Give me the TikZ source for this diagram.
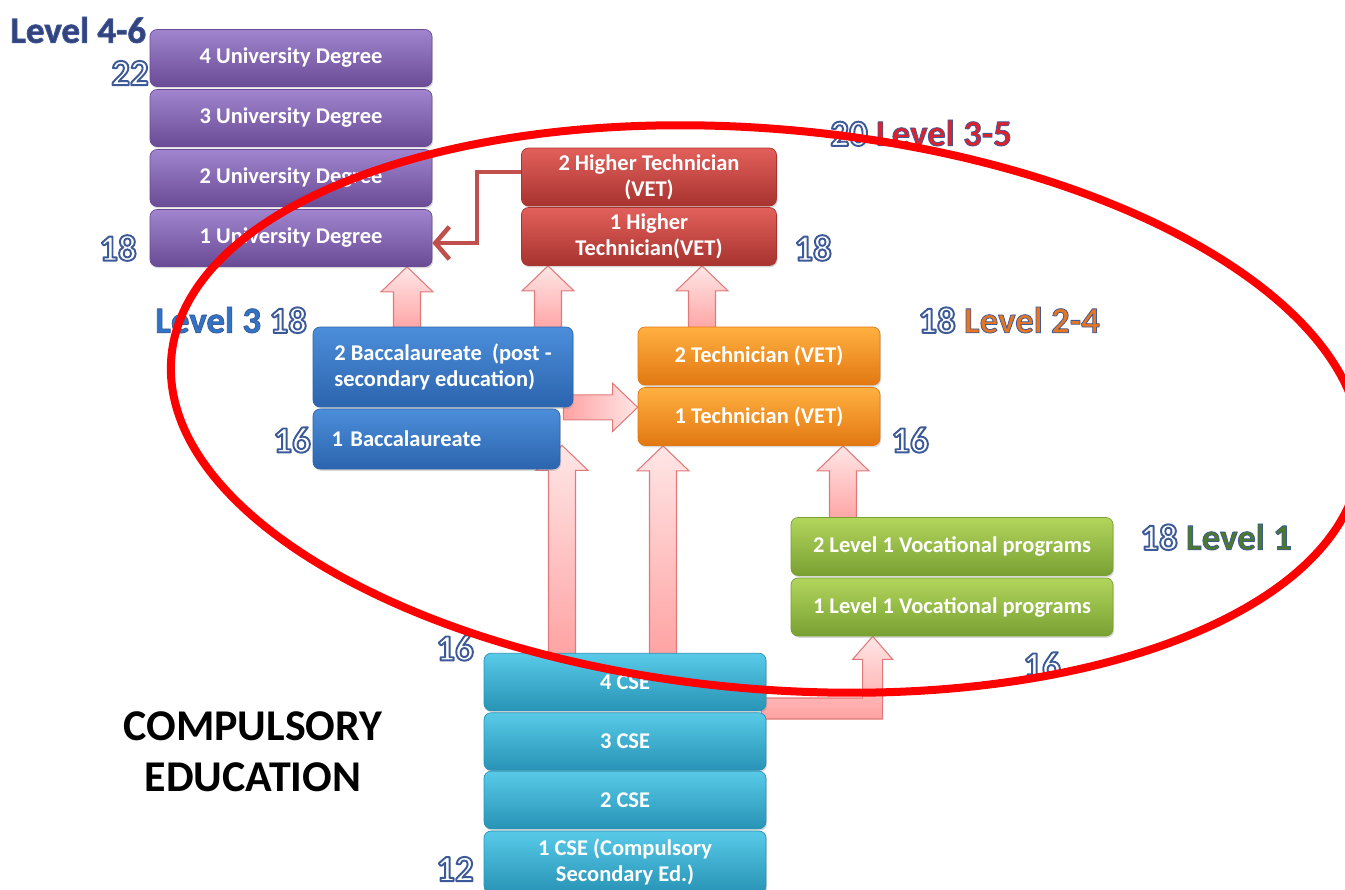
\documentclass[tikz,border=0pt]{standalone}
\usepackage{fontspec}
\setmainfont{Carlito}
\usetikzlibrary{calc,shadows,arrows.meta}

\definecolor{univtop}{HTML}{A185CE}
\definecolor{univbot}{HTML}{6A4A96}
\definecolor{htectop}{HTML}{E2605B}
\definecolor{htecbot}{HTML}{A8332F}
\definecolor{bacctop}{HTML}{4C8EDA}
\definecolor{baccbot}{HTML}{2C64AE}
\definecolor{techtop}{HTML}{FFB040}
\definecolor{techbot}{HTML}{E27812}
\definecolor{voctop}{HTML}{B2D55C}
\definecolor{vocbot}{HTML}{78A032}
\definecolor{csetop}{HTML}{58CAE8}
\definecolor{csebot}{HTML}{2893B6}
\definecolor{pinktop}{HTML}{FFE6E6}
\definecolor{pinkbot}{HTML}{FFA2A2}
\definecolor{pinkedge}{HTML}{E07A7A}
\definecolor{hteclink}{HTML}{C0504D}
\definecolor{lvlnavy}{HTML}{34437E}
\definecolor{lvlblue}{HTML}{2F74C6}
\definecolor{lvlred}{HTML}{E0202A}
\definecolor{lvlorange}{HTML}{E8751F}
\definecolor{lvlgreen}{HTML}{4C7A2A}

\pgfdeclarelayer{bg}
\pgfsetlayers{bg,main}

% outlined text: fill colour #1, blue outline of width #2
\newcommand{\outl}[3]{{\color{#1}\special{pdf:literal direct 0.239 0.353 0.596 RG #2 w 1 j 2 Tr}#3\special{pdf:literal direct 0 Tr}}}
\newcommand{\agelbl}[1]{\outl{white}{1.1}{#1}}
\newcommand{\lvllbl}[2]{\outl{#1}{0.45}{#2}}

% block arrow going up at px position #1, from anchor #2 to anchor #3
\newcommand{\upblock}[3]{%
  \path (#1,0) coordinate (ax);
  \draw[blockarrow] let \p1=(ax |- #2), \p2=(ax |- #3) in
    (\x1-0.27cm,\y1-0.1cm) -- (\x1-0.27cm,\y2-0.5cm) -- (\x1-0.52cm,\y2-0.5cm) -- (\x1,\y2)
    -- (\x1+0.52cm,\y2-0.5cm) -- (\x1+0.27cm,\y2-0.5cm) -- (\x1+0.27cm,\y1-0.1cm) -- cycle;}

\begin{document}
\begin{tikzpicture}[x=0.02cm,y=-0.02cm,
    box/.style={rounded corners=4pt, text=white, align=center, inner sep=2pt,
      font=\bfseries\fontsize{12.8}{15}\selectfont,
      drop shadow={opacity=0.3,shadow xshift=0.6pt,shadow yshift=-1pt}},
    univbox/.style={box, top color=univtop, bottom color=univbot, draw=univbot,
      minimum width=5.64cm, minimum height=1.14cm},
    htecbox/.style={box, top color=htectop, bottom color=htecbot, draw=htecbot,
      minimum width=5.1cm, minimum height=1.16cm},
    baccbox/.style={box, top color=bacctop, bottom color=baccbot, draw=baccbot, align=left},
    techbox/.style={box, top color=techtop, bottom color=techbot, draw=techbot,
      minimum width=4.84cm, minimum height=1.16cm},
    vocbox/.style={box, top color=voctop, bottom color=vocbot, draw=vocbot,
      minimum width=6.44cm, minimum height=1.16cm},
    csebox/.style={box, top color=csetop, bottom color=csebot, draw=csebot,
      minimum width=5.64cm, minimum height=1.15cm},
    blockarrow/.style={draw=pinkedge, line width=0.6pt, top color=pinktop, bottom color=pinkbot},
    agetxt/.style={font=\bfseries\fontsize{21}{25}\selectfont, inner sep=0pt},
    hteclinkarrow/.style={draw=hteclink, line width=2.6pt,
      -{Straight Barb[length=2.8mm,width=6.5mm]}}]

  \useasboundingbox (0,0) rectangle (1345,889);
  \clip (0,0) rectangle (1345,889);

  % University degrees
  \node[univbox] (univ4) at (291,58) {4 University Degree};
  \node[univbox] (univ3) at (291,118) {3 University Degree};
  \node[univbox] (univ2) at (291,178) {2 University Degree};
  \node[univbox] (univ1) at (291,238) {1 University Degree};

  % Higher technician
  \node[htecbox] (htec2) at (649,177) {2 Higher Technician\\(VET)};
  \node[htecbox] (htec1) at (649,236.5) {1 Higher\\Technician(VET)};

  % Baccalaureate
  \node[baccbox, minimum width=5.2cm, minimum height=1.6cm] (bacc2) at (443,367)
    {2 Baccalaureate~ (post -\\secondary education)};
  \node[baccbox, minimum width=4.94cm, minimum height=1.2cm, text width=4.2cm] (bacc1) at (436.5,439)
    {1 Baccalaureate};

  % Technician
  \node[techbox] (tech2) at (759,356) {2 Technician (VET)};
  \node[techbox] (tech1) at (759,416.5) {1 Technician (VET)};

  % Level 1 vocational
  \node[vocbox] (voc2) at (952,546.5) {2 Level 1 Vocational programs};
  \node[vocbox] (voc1) at (952,607) {1 Level 1 Vocational programs};

  % Compulsory secondary
  \node[csebox] (cse4) at (625,682) {4 CSE};
  \node[csebox] (cse3) at (625,741.5) {3 CSE};
  \node[csebox] (cse2) at (625,800) {2 CSE};
  \node[csebox, minimum height=1.24cm] (cse1) at (625,862) {1 CSE (Compulsory\\Secondary Ed.)};

  \coordinate (baccin) at ([yshift=0.48cm]bacc1.south);
  \coordinate (vocin) at ([xshift=1.64cm]voc1.south west);

  % Pink block arrows behind the boxes
  \begin{pgfonlayer}{bg}
    \upblock{407}{bacc2.north}{univ1.south}
    \upblock{548}{bacc2.north}{htec1.south}
    \upblock{702}{tech2.north}{htec1.south}
    \upblock{562}{cse4.north}{baccin}
    \upblock{663}{cse4.north}{tech1.south}
    \upblock{843}{voc2.north}{tech1.south}
    \draw[blockarrow, left color=pinkbot, right color=pinktop] let \p1=(bacc2.south east), \p2=(tech1.west) in
      (\x1-0.2cm,\y1+0.25cm) -- (\x2-0.5cm,\y1+0.25cm) -- (\x2-0.5cm,\y1+0.48cm) -- (\x2,\y1)
      -- (\x2-0.5cm,\y1-0.48cm) -- (\x2-0.5cm,\y1-0.25cm) -- (\x1-0.2cm,\y1-0.25cm) -- cycle;
    \draw[blockarrow] let \p1=([yshift=-0.53cm]cse4.east), \p2=(vocin) in
      (\x1-0.1cm,\y1+0.21cm) -- (\x2-0.2cm,\y1+0.21cm) -- (\x2-0.2cm,\y2-0.46cm) -- (\x2-0.4cm,\y2-0.46cm)
      -- (\x2,\y2) -- (\x2+0.4cm,\y2-0.46cm) -- (\x2+0.2cm,\y2-0.46cm) -- (\x2+0.2cm,\y1-0.21cm)
      -- (\x1-0.1cm,\y1-0.21cm) -- cycle;
  \end{pgfonlayer}

  % Higher technician to university
  \draw[hteclinkarrow] ([yshift=0.1cm]htec2.west) -- ++(-44,0) |- ([yshift=-0.1cm]univ1.east);

  % Ages and levels
  \node[agetxt, anchor=west] (lvl46) at (10,30) {\lvllbl{lvlnavy}{Level 4-6}};
  \node[agetxt] (age22) at (130,73) {\agelbl{22}};
  \node[agetxt] (age18u) at (118,248) {\agelbl{18}};
  \node[agetxt, anchor=west] (lvl35) at (830,133) {\agelbl{20} \lvllbl{lvlred}{Level 3-5}};
  \node[agetxt] (age18h) at (813,248) {\agelbl{18}};
  \node[agetxt, anchor=west] (lvl3) at (155,320) {\lvllbl{lvlblue}{Level 3} \agelbl{18}};
  \node[agetxt, anchor=west] (lvl24) at (918,320) {\agelbl{18} \lvllbl{lvlorange}{Level 2-4}};
  \node[agetxt] (age16b) at (292,440) {\agelbl{16}};
  \node[agetxt] (age16t) at (910,440) {\agelbl{16}};
  \node[agetxt, anchor=west] (lvl1) at (1140,537) {\agelbl{18} \lvllbl{lvlgreen}{Level 1}};
  \node[agetxt] (age16v) at (1042,665) {\agelbl{16}};
  \node[agetxt] (age16c) at (455,648) {\agelbl{16}};
  \node[agetxt] (age12) at (455,869) {\agelbl{12}};

  \node[font=\bfseries\fontsize{25}{29}\selectfont, align=center] (compulsory) at (253,752)
    {COMPULSORY\\EDUCATION};

  % Red ellipse round the post-compulsory part
  \coordinate (ellc) at (766,409);
  \draw[red, line width=0.16cm, rotate around={-5:(ellc)}] (ellc) ellipse [x radius=11.94cm, y radius=5.6cm];
\end{tikzpicture}
\end{document}
